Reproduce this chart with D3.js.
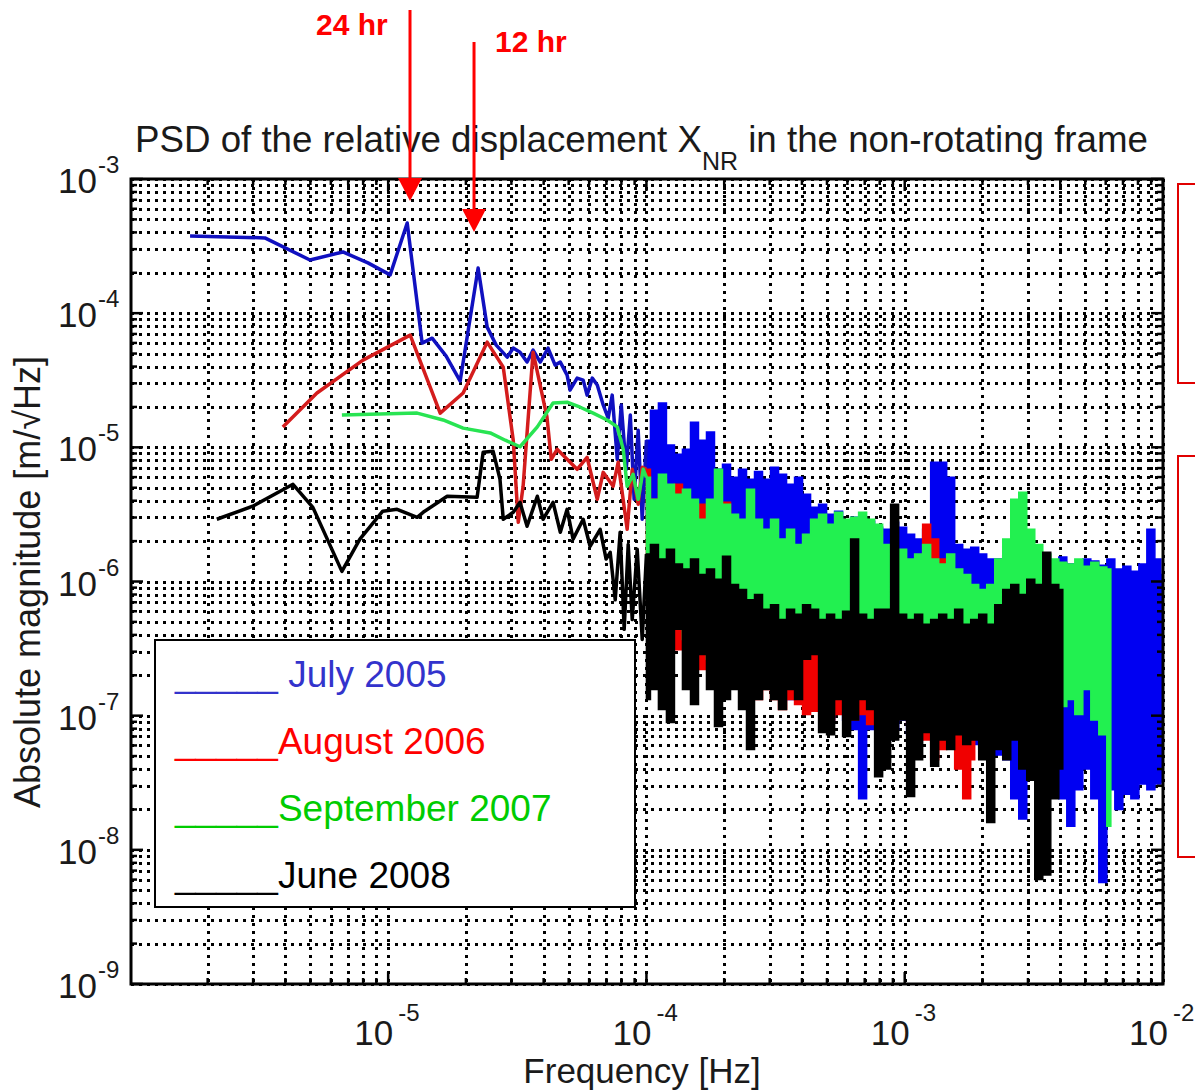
<!DOCTYPE html>
<html>
<head>
<meta charset="utf-8">
<script src="https://cdn.jsdelivr.net/npm/d3@7"></script>
<style>
  body { margin: 0; background: #fff; }
  text { font-family: "Liberation Sans", Arial, Helvetica, sans-serif; }
</style>
</head>
<body>
<svg id="chart" width="1195" height="1091"></svg>
<script>

// ---- values ----

// low frequency part of each spectrum, [frequency Hz, magnitude]
var julyLine = [[1.71e-6,3.76e-4],[3.33e-6,3.64e-4],[4.98e-6,2.49e-4],[6.68e-6,2.86e-4],[8.35e-6,2.37e-4],
  [1.018e-5,1.93e-4],[1.185e-5,4.70e-4],[1.354e-5,5.98e-5],[1.480e-5,6.51e-5],[1.677e-5,4.79e-5],
  [1.90e-5,3.12e-5],[2.23e-5,2.17e-4],[2.417e-5,7.87e-5],[2.62e-5,5.78e-5],[2.89e-5,4.70e-5],
  [3.05e-5,5.49e-5],[3.24e-5,5.12e-5],[3.45e-5,4.32e-5],[3.64e-5,5.30e-5],[3.88e-5,4.32e-5],
  [4.16e-5,5.49e-5],[4.43e-5,4.10e-5],[4.64e-5,4.32e-5],[4.93e-5,3.45e-5],[5.06e-5,2.67e-5],
  [5.39e-5,3.28e-5],[5.69e-5,3.17e-5],[5.89e-5,2.45e-5],[6.17e-5,3.28e-5],[6.45e-5,2.91e-5],
  [6.80e-5,2.07e-5],[7.11e-5,1.65e-5],[7.37e-5,2.45e-5],[7.71e-5,8.14e-6],[7.99e-5,2.07e-5],
  [8.35e-5,6.86e-6],[8.66e-5,1.74e-5],[8.96e-5,4.10e-6],[9.29e-5,1.34e-5],[9.63e-5,2.91e-6]];

var augLine = [[3.91e-6,1.42e-5],[5.30e-6,2.54e-5],[7.99e-6,4.47e-5],[1.217e-5,6.86e-5],[1.590e-5,1.80e-5],
  [1.951e-5,2.54e-5],[2.417e-5,6.08e-5],[2.79e-5,3.96e-5],[3.05e-5,1.13e-5],[3.19e-5,2.76e-6],
  [3.33e-5,5.12e-6],[3.64e-5,5.12e-5],[4.12e-5,1.68e-5],[4.28e-5,8.14e-6],[4.51e-5,9.66e-6],
  [4.93e-5,8.14e-6],[5.39e-5,6.86e-6],[5.89e-5,8.43e-6],[6.45e-5,4.10e-6],[6.80e-5,6.51e-6],
  [7.43e-5,5.12e-6],[7.77e-5,7.73e-6],[8.42e-5,2.45e-6],[8.81e-5,6.86e-6],[9.29e-5,3.76e-6],
  [9.63e-5,7.10e-6]];

var sepLine = [[6.62e-6,1.74e-5],[1.295e-5,1.80e-5],[1.632e-5,1.60e-5],[1.951e-5,1.39e-5],[2.484e-5,1.28e-5],
  [2.84e-5,1.13e-5],[3.24e-5,1.01e-5],[3.78e-5,1.42e-5],[4.35e-5,2.14e-5],[4.93e-5,2.17e-5],
  [5.54e-5,1.99e-5],[6.22e-5,1.80e-5],[7.04e-5,1.60e-5],[7.71e-5,1.42e-5],[8.13e-5,9.66e-6],
  [8.42e-5,5.12e-6],[8.88e-5,6.29e-6],[9.29e-5,4.10e-6],[9.72e-5,6.86e-6]];

var juneLine = [[2.17e-6,2.91e-6],[2.99e-6,3.64e-6],[4.28e-6,5.30e-6],[5.11e-6,3.57e-6],[6.62e-6,1.19e-6],
  [7.77e-6,2.07e-6],[9.53e-6,3.34e-6],[1.083e-5,3.45e-6],[1.295e-5,3.01e-6],[1.366e-5,3.28e-6],
  [1.692e-5,4.32e-6],[2.21e-5,4.24e-6],[2.332e-5,9.18e-6],[2.55e-5,9.34e-6],[2.71e-5,5.78e-6],
  [2.79e-5,2.91e-6],[3.05e-5,3.28e-6],[3.24e-5,3.89e-6],[3.45e-5,2.58e-6],[3.78e-5,4.32e-6],
  [3.98e-5,2.91e-6],[4.35e-5,3.89e-6],[4.64e-5,2.33e-6],[4.93e-5,3.45e-6],[5.20e-5,2.07e-6],
  [5.69e-5,2.91e-6],[6.05e-5,1.83e-6],[6.62e-5,2.45e-6],[6.98e-5,1.47e-6],[7.24e-5,1.65e-6],
  [7.57e-5,7.3e-7],[7.91e-5,2.33e-6],[8.20e-5,4.4e-7],[8.50e-5,1.89e-6],[8.81e-5,5.2e-7],
  [9.21e-5,1.74e-6],[9.63e-5,3.7e-7]];

// high frequency part: max / min of each spectrum in narrow frequency bins
var bandF = [1.000e-4,1.074e-4,1.153e-4,1.239e-4,1.330e-4,1.429e-4,1.535e-4,1.648e-4,1.770e-4,1.901e-4,
  2.042e-4,2.193e-4,2.355e-4,2.529e-4,2.716e-4,2.917e-4,3.133e-4,3.365e-4,3.614e-4,3.881e-4,
  4.168e-4,4.477e-4,4.808e-4,5.164e-4,5.546e-4,5.956e-4,6.397e-4,6.870e-4,7.378e-4,7.924e-4,
  8.510e-4,9.140e-4,9.816e-4,1.054e-3,1.132e-3,1.216e-3,1.306e-3,1.403e-3,1.506e-3,1.618e-3,
  1.738e-3,1.866e-3,2.004e-3,2.153e-3,2.312e-3,2.483e-3,2.667e-3,2.864e-3,3.076e-3,3.304e-3,
  3.548e-3,3.811e-3,4.093e-3,4.396e-3,4.721e-3,5.070e-3,5.445e-3,5.848e-3,6.281e-3,6.745e-3,
  7.245e-3,7.781e-3,8.356e-3,8.975e-3,9.639e-3,1.000e-2];

var julyMax = [1.13e-5,1.89e-5,2.14e-5,1.04e-5,8.87e-6,9.66e-6,1.54e-5,1.13e-5,1.30e-5,6.86e-6,
  7.47e-6,5.98e-6,6.86e-6,5.78e-6,6.6e-6,5.78e-6,7.10e-6,6.29e-6,5.30e-6,5.98e-6,
  4.47e-6,3.57e-6,3.76e-6,3.17e-6,3.34e-6,2.67e-6,3.01e-6,2.91e-6,2.81e-6,2.54e-6,
  2.45e-6,2.76e-6,2.54e-6,2.25e-6,2.07e-6,2.45e-6,7.73e-6,7.73e-6,5.98e-6,1.89e-6,
  1.74e-6,1.80e-6,1.60e-6,1.47e-6,1.47e-6,1.65e-6,1.47e-6,1.42e-6,1.52e-6,1.35e-6,
  1.47e-6,1.42e-6,1.52e-6,1.35e-6,1.28e-6,1.47e-6,1.42e-6,1.32e-6,1.47e-6,1.24e-6,
  1.30e-6,1.19e-6,1.35e-6,2.45e-6,1.47e-6,1.13e-6];
var julyMin = [2.45e-6,1.47e-6,1.24e-6,8.7e-7,7.3e-7,6.2e-7,3.7e-7,5.2e-7,3.1e-7,3.7e-7,
  2.63e-7,3.1e-7,2.21e-7,2.63e-7,1.87e-7,2.21e-7,1.57e-7,1.87e-7,1.32e-7,1.57e-7,
  1.32e-7,1.11e-7,1.32e-7,9.3e-8,1.11e-7,9.3e-8,7.9e-8,2.4e-8,7.9e-8,9.3e-8,
  6.6e-8,7.9e-8,9.3e-8,7.2e-8,6.6e-8,7.9e-8,6.6e-8,7.2e-8,6.1e-8,6.6e-8,
  5.6e-8,6.1e-8,5.6e-8,6.6e-8,5.1e-8,4.7e-8,2.4e-8,1.7e-8,4.0e-8,3.6e-8,
  3.3e-8,4.0e-8,2.4e-8,1.5e-8,2.8e-8,4.0e-8,2.4e-8,5.7e-9,2.8e-8,2.0e-8,
  2.6e-8,2.4e-8,3.1e-8,2.8e-8,3.1e-8,3.2e-8];

var augMax = [6.86e-6,4.10e-6,5.78e-6,3.45e-6,5.30e-6,4.10e-6,2.67e-6,3.76e-6,2.07e-6,2.91e-6,
  3.89e-6,2.45e-6,2.07e-6,2.58e-6,1.89e-6,1.74e-6,1.60e-6,1.47e-6,1.60e-6,1.47e-6,
  1.13e-6,1.04e-6,9.5e-7,1.13e-6,1.04e-6,8.7e-7,9.5e-7,1.04e-6,8.7e-7,1.04e-6,
  9.5e-7,1.13e-6,1.24e-6,1.04e-6,1.47e-6,2.67e-6,2.07e-6,1.47e-6,1.04e-6,8.7e-7,
  8.0e-7,7.3e-7];
var augMin = [7.3e-7,5.2e-7,6.2e-7,4.4e-7,3.1e-7,3.7e-7,2.63e-7,2.21e-7,2.86e-7,3.1e-7,
  2.63e-7,1.87e-7,2.21e-7,1.57e-7,1.32e-7,1.57e-7,1.32e-7,1.11e-7,1.32e-7,1.21e-7,
  1.02e-7,1.08e-7,1.21e-7,9.3e-8,1.02e-7,1.11e-7,9.3e-8,1.02e-7,8.6e-8,9.3e-8,
  7.9e-8,9.3e-8,1.02e-7,8.6e-8,7.9e-8,6.6e-8,4.7e-8,5.6e-8,6.1e-8,4.0e-8,
  2.4e-8,4.7e-8];

var sepMax = [5.98e-6,4.10e-6,6.29e-6,5.30e-6,4.47e-6,4.87e-6,4.10e-6,2.91e-6,4.10e-6,6.86e-6,
  3.76e-6,3.17e-6,2.91e-6,4.87e-6,2.91e-6,2.45e-6,2.91e-6,2.07e-6,2.45e-6,1.89e-6,
  2.25e-6,2.91e-6,3.17e-6,2.67e-6,3.28e-6,2.91e-6,3.01e-6,3.28e-6,2.91e-6,2.67e-6,
  1.89e-6,1.60e-6,1.74e-6,1.47e-6,1.60e-6,1.89e-6,1.47e-6,1.35e-6,1.60e-6,1.24e-6,
  1.13e-6,9.5e-7,8.7e-7,9.5e-7,1.47e-6,2.07e-6,4.10e-6,4.62e-6,2.45e-6,1.89e-6,
  1.60e-6,1.47e-6,1.39e-6,1.35e-6,1.47e-6,1.30e-6,1.39e-6,1.28e-6,1.24e-6];
var sepMin = [1.47e-6,1.35e-6,7.3e-7,5.2e-7,4.4e-7,3.7e-7,3.1e-7,3.7e-7,2.63e-7,2.10e-7,
  3.1e-7,3.7e-7,2.63e-7,3.3e-7,3.7e-7,3.1e-7,3.7e-7,2.63e-7,3.1e-7,3.4e-7,
  3.1e-7,3.7e-7,3.1e-7,3.7e-7,3.4e-7,3.1e-7,3.7e-7,2.63e-7,3.1e-7,3.4e-7,
  1.77e-7,1.77e-7,2.63e-7,2.86e-7,2.21e-7,2.63e-7,3.1e-7,2.41e-7,2.63e-7,2.0e-7,
  1.87e-7,9.3e-8,7.5e-8,1.32e-7,1.57e-7,1.32e-7,1.44e-7,1.11e-7,1.32e-7,1.21e-7,
  1.11e-7,1.32e-7,1.17e-7,1.32e-7,1.02e-7,1.57e-7,9.3e-8,7.2e-8,1.5e-8];

var juneMax = [1.60e-6,1.89e-6,1.47e-6,1.74e-6,1.35e-6,1.24e-6,1.47e-6,1.13e-6,1.24e-6,1.04e-6,
  1.54e-6,9.5e-7,8.7e-7,7.3e-7,8.0e-7,6.2e-7,6.7e-7,5.2e-7,6.2e-7,5.7e-7,
  6.7e-7,6.2e-7,5.2e-7,5.7e-7,5.2e-7,6.0e-7,2.07e-6,5.7e-7,5.2e-7,6.2e-7,
  6.2e-7,3.76e-6,5.7e-7,5.2e-7,5.7e-7,4.8e-7,5.2e-7,5.7e-7,5.2e-7,6.2e-7,
  4.8e-7,5.2e-7,5.7e-7,4.8e-7,6.7e-7,8.7e-7,9.5e-7,8.0e-7,1.04e-6,9.5e-7,
  1.65e-6,9.5e-7,8.7e-7];
var juneMin = [1.32e-7,1.57e-7,1.11e-7,8.9e-8,4.4e-7,1.57e-7,1.21e-7,2.86e-7,1.57e-7,8.3e-8,
  1.32e-7,1.57e-7,1.11e-7,5.6e-8,1.32e-7,1.57e-7,1.32e-7,1.11e-7,1.57e-7,1.32e-7,
  2.63e-7,2.86e-7,7.5e-8,7.2e-8,1.32e-7,7.0e-8,9.3e-8,1.32e-7,1.11e-7,3.5e-8,
  4.0e-8,6.6e-8,9.3e-8,2.5e-8,4.7e-8,7.5e-8,4.2e-8,6.6e-8,5.6e-8,7.2e-8,
  6.1e-8,6.6e-8,4.7e-8,1.6e-8,5.6e-8,4.7e-8,6.6e-8,4.0e-8,3.3e-8,6.0e-9,
  6.5e-9,2.4e-8,4.0e-8];

var seriesNames = ["July 2005", "August 2006", "September 2007", "June 2008"];
var xTickExp = [-5, -4, -3, -2];
var yTickExp = [-9, -8, -7, -6, -5, -4, -3];
// arrow labels and the frequency each arrow points at
var arrowLabels = [["24 hr", 1.215e-5], ["12 hr", 2.15e-5]];

// ---- layout ----
var svg = d3.select("#chart");
var plotL = 131, plotR = 1163, plotT = 179, plotB = 984;

var x = d3.scaleLog().domain([1.01e-6, 1e-2]).range([plotL, plotR]);
var y = d3.scaleLog().domain([1e-9, 1e-3]).range([plotB, plotT]);

var series = [
  {name: seriesNames[0], line: julyLine, max: julyMax, min: julyMin, band: "#0000f2", stroke: "#1010c0", text: "#3333cc", gap: " "},
  {name: seriesNames[1], line: augLine,  max: augMax,  min: augMin,  band: "#f00000", stroke: "#d41c1c", text: "#ff0000", gap: ""},
  {name: seriesNames[2], line: sepLine,  max: sepMax,  min: sepMin,  band: "#22f050", stroke: "#28e452", text: "#00cc00", gap: ""},
  {name: seriesNames[3], line: juneLine, max: juneMax, min: juneMin, band: "#000000", stroke: "#000000", text: "#000000", gap: ""}
];

function isDecade(d) {
  var l = Math.log10(d);
  return Math.abs(l - Math.round(l)) < 1e-9;
}

// grid values: every 1..9 x 10^n
var gridX = [], gridY = [];
for (var e = -6; e <= -3; e++)
  for (var m = 1; m <= 9; m++) {
    var v = m * Math.pow(10, e);
    if (v >= 1.01e-6) gridX.push(v);
  }
gridX.push(1e-2);
for (var e = -9; e <= -4; e++)
  for (var m = 1; m <= 9; m++) gridY.push(m * Math.pow(10, e));
gridY.push(1e-3);

var grid = svg.append("g")
    .attr("stroke", "#000")
    .attr("stroke-width", 3)
    .attr("stroke-dasharray", "3,5")
    .attr("shape-rendering", "crispEdges");

grid.selectAll("line.gx").data(gridX).enter().append("line")
    .attr("x1", d => Math.round(x(d))).attr("x2", d => Math.round(x(d)))
    .attr("y1", plotT).attr("y2", plotB);
grid.selectAll("line.gy").data(gridY).enter().append("line")
    .attr("y1", d => Math.round(y(d))).attr("y2", d => Math.round(y(d)))
    .attr("x1", plotL).attr("x2", plotR);

// ---- spectra ----
var plot = svg.append("g");

var line = d3.line()
    .x(d => x(d[0]))
    .y(d => y(d[1]));

var band = d3.area()
    .curve(d3.curveStep)
    .x(d => x(d[0]))
    .y0(d => y(d[2]))
    .y1(d => y(d[1]));

series.forEach(function(s) {
  var pts = s.max.map((v, i) => [bandF[i], v, s.min[i]]);
  plot.append("path")
      .attr("d", band(pts))
      .attr("fill", s.band)
      .attr("stroke", s.band)
      .attr("stroke-width", 1.5);

  // join the line to the first bin of the band
  var full = s.line.concat([[bandF[0], s.max[0]]]);
  plot.append("path")
      .attr("d", line(full))
      .attr("fill", "none")
      .attr("stroke", s.stroke)
      .attr("stroke-width", 3.5)
      .attr("stroke-linejoin", "round");
});

// ---- frame and ticks ----
var axes = svg.append("g").attr("stroke", "#000").attr("stroke-width", 2.5);
axes.selectAll("line.tb").data(gridX).enter().append("line")
    .attr("x1", d => x(d)).attr("x2", d => x(d))
    .attr("y1", plotB).attr("y2", d => plotB - (isDecade(d) ? 12 : 6));
axes.selectAll("line.tt").data(gridX).enter().append("line")
    .attr("x1", d => x(d)).attr("x2", d => x(d))
    .attr("y1", plotT).attr("y2", d => plotT + (isDecade(d) ? 12 : 6));
axes.selectAll("line.tl").data(gridY).enter().append("line")
    .attr("y1", d => y(d)).attr("y2", d => y(d))
    .attr("x1", plotL).attr("x2", d => plotL + (isDecade(d) ? 12 : 6));
axes.selectAll("line.tr").data(gridY).enter().append("line")
    .attr("y1", d => y(d)).attr("y2", d => y(d))
    .attr("x1", plotR).attr("x2", d => plotR - (isDecade(d) ? 12 : 6));

svg.append("rect")
    .attr("x", plotL).attr("y", plotT)
    .attr("width", plotR - plotL).attr("height", plotB - plotT)
    .attr("fill", "none")
    .attr("stroke", "#000")
    .attr("stroke-width", 3);

// ---- tick labels ----
var labels = svg.append("g").attr("fill", "#1a1a1a");

yTickExp.forEach(function(p) {
  var yy = y(Math.pow(10, p));
  labels.append("text").attr("x", 97).attr("y", yy + 14)
      .attr("text-anchor", "end").attr("font-size", 35).text("10");
  labels.append("text").attr("x", 98).attr("y", yy - 6)
      .attr("font-size", 24).text("-" + Math.abs(p));
});

xTickExp.forEach(function(p) {
  var xx = x(Math.pow(10, p));
  labels.append("text").attr("x", xx + 5).attr("y", 1045)
      .attr("text-anchor", "end").attr("font-size", 35).text("10");
  labels.append("text").attr("x", xx + 10).attr("y", 1021)
      .attr("font-size", 24).text("-" + Math.abs(p));
});

labels.append("text")
    .attr("x", 642).attr("y", 1083)
    .attr("text-anchor", "middle")
    .attr("font-size", 35)
    .text("Frequency [Hz]");

labels.append("text")
    .attr("transform", "translate(40,582) rotate(-90)")
    .attr("text-anchor", "middle")
    .attr("font-size", 36)
    .text("Absolute magnitude [m/\u221AHz]");

var title = labels.append("text")
    .attr("x", 135).attr("y", 152)
    .attr("font-size", 36.7);
title.append("tspan").text("PSD of the relative displacement X");
title.append("tspan").attr("dy", 18).attr("font-size", 25).text("NR");
title.append("tspan").attr("dy", -18).text(" in the non-rotating frame");

// ---- legend ----
var legend = svg.append("g");
legend.append("rect")
    .attr("x", 155).attr("y", 640)
    .attr("width", 480).attr("height", 267)
    .attr("fill", "#fff")
    .attr("stroke", "#000")
    .attr("stroke-width", 2);

legend.selectAll("text").data(series).enter().append("text")
    .attr("x", 175)
    .attr("y", (d, i) => 687 + i * 67)
    .attr("font-size", 37)
    .attr("fill", d => d.text)
    .text(d => "_____" + d.gap + d.name);

// ---- annotations ----
var note = svg.append("g");
note.selectAll("rect").data([[184, 383], [456, 857]]).enter().append("rect")
    .attr("x", 1178).attr("y", d => d[0])
    .attr("width", 40).attr("height", d => d[1] - d[0])
    .attr("fill", "none")
    .attr("stroke", "#e00000")
    .attr("stroke-width", 2);

var arrowTop = [10, 42], tipY = [201, 232], textPos = [[316, 35], [495, 52]];
arrowLabels.forEach(function(a, i) {
  var ax = x(a[1]);
  note.append("line")
      .attr("x1", ax).attr("x2", ax)
      .attr("y1", arrowTop[i]).attr("y2", tipY[i] - 20)
      .attr("stroke", "#ff0000").attr("stroke-width", 3);
  note.append("path")
      .attr("d", "M" + (ax - 12) + "," + (tipY[i] - 23) + "L" + (ax + 12) + "," + (tipY[i] - 23) + "L" + ax + "," + tipY[i] + "Z")
      .attr("fill", "#ff0000");
  note.append("text")
      .attr("x", textPos[i][0]).attr("y", textPos[i][1])
      .attr("font-size", 30).attr("font-weight", "bold")
      .attr("fill", "#ff0000")
      .text(a[0]);
});

</script>
</body>
</html>
